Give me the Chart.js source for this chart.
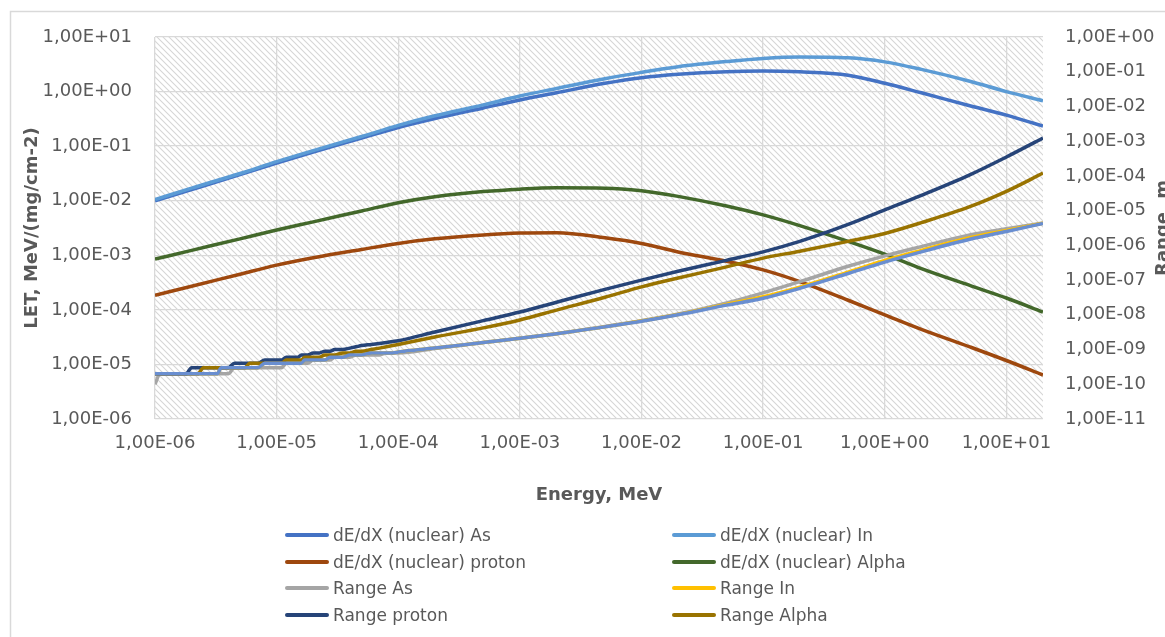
<!DOCTYPE html>
<html>
<head>
<meta charset="utf-8">
<script src="https://cdn.jsdelivr.net/npm/chart.js"></script>
<style>
    html, body { margin: 0; padding: 0; background: #fff; overflow: hidden; }
    #wrap { position: relative; width: 1165px; height: 637px; }
    #legend .item { position: absolute; font: 17px "DejaVu Sans"; line-height: 20px; color: #595959; white-space: nowrap; }
    #legend .swatch { position: absolute; width: 44px; height: 4px; border-radius: 2px; }
</style>
</head>
<body>
<div id="wrap">
    <canvas id="letChart" width="1165" height="637"></canvas>
    <div id="legend"></div>
</div>
<script>
// energies of the dE/dX tables, MeV
const energyMeV = [1e-6, 2e-6, 5e-6, 1e-5, 2e-5, 5e-5, 1e-4, 2e-4, 5e-4, 1e-3, 2e-3, 5e-3,
    1e-2, 2e-2, 5e-2, 1e-1, 2e-1, 5e-1, 1, 2, 5, 10, 20];

// dE/dX (nuclear), MeV/(mg/cm-2)
const letAs = [1.0e-2, 1.6e-2, 3.0e-2, 4.9e-2, 7.8e-2, 0.14, 0.22, 0.32, 0.50, 0.70, 0.95, 1.42,
    1.80, 2.08, 2.32, 2.38, 2.3, 2.0, 1.42, 0.95, 0.55, 0.37, 0.234];
const letIn = [1.05e-2, 1.7e-2, 3.15e-2, 5.2e-2, 8.3e-2, 0.15, 0.24, 0.36, 0.57, 0.83, 1.14, 1.72,
    2.25, 2.85, 3.55, 4.05, 4.3, 4.15, 3.5, 2.55, 1.55, 1.0, 0.68];
const letProton = [1.85e-4, 2.7e-4, 4.5e-4, 6.6e-4, 9.0e-4, 1.28e-3, 1.65e-3, 2.0e-3, 2.35e-3, 2.55e-3, 2.6e-3, 2.1e-3,
    1.65e-3, 1.15e-3, 7.8e-4, 5.4e-4, 3.3e-4, 1.5e-4, 8.1e-5, 4.4e-5, 2.1e-5, 1.18e-5, 6.4e-6];
const letAlpha = [8.5e-4, 1.23e-3, 2.0e-3, 2.9e-3, 4.1e-3, 6.5e-3, 9.2e-3, 1.18e-2, 1.47e-2, 1.63e-2, 1.72e-2, 1.7e-2,
    1.52e-2, 1.2e-2, 8.0e-3, 5.5e-3, 3.5e-3, 1.8e-3, 1.05e-3, 5.7e-4, 2.8e-4, 1.65e-4, 9.1e-5];

// energies of the range tables, MeV (SRIM style grid at the low end)
const rangeEnergyMeV = [1e-6, 1.1e-6, 1.2e-6, 1.3e-6, 1.4e-6, 1.5e-6, 1.6e-6, 1.7e-6, 1.8e-6, 2e-6, 2.25e-6, 2.5e-6, 2.75e-6,
    3e-6, 3.25e-6, 3.5e-6, 3.75e-6, 4e-6, 4.5e-6, 5e-6, 5.5e-6, 6e-6, 6.5e-6, 7e-6, 8e-6, 9e-6,
    1e-5, 1.1e-5, 1.2e-5, 1.3e-5, 1.4e-5, 1.5e-5, 1.6e-5, 1.7e-5, 1.8e-5, 2e-5, 2.25e-5, 2.5e-5, 2.75e-5,
    3e-5, 3.5e-5, 4e-5, 4.5e-5, 5e-5, 6e-5, 7e-5, 8e-5, 9e-5,
    1e-4, 2e-4, 5e-4, 1e-3, 2e-3, 5e-3, 1e-2, 2e-2, 5e-2, 0.1, 0.2, 0.5, 1, 2, 5, 10, 20];

// ranges, m
const rangeAs = [1e-10, 2e-10, 2e-10, 2e-10, 2e-10, 2e-10, 2e-10, 2e-10, 2e-10, 2e-10, 2e-10, 2e-10, 2e-10,
    2e-10, 2e-10, 2e-10, 2e-10, 2e-10, 3e-10, 3e-10, 3e-10, 3e-10, 3e-10, 3e-10, 3e-10, 3e-10,
    3e-10, 3e-10, 4e-10, 4e-10, 4e-10, 4e-10, 4e-10, 4e-10, 4e-10, 5e-10, 5e-10, 5e-10, 5e-10,
    6e-10, 6e-10, 6e-10, 7e-10, 7e-10, 7e-10, 7e-10, 8e-10, 8e-10,
    8e-10, 1.07e-9, 1.6e-9, 2.1e-9, 2.85e-9, 4.6e-9, 6.8e-9, 1.05e-8, 2.2e-8, 4.3e-8, 9e-8, 2.5e-7, 5.0e-7, 9.2e-7, 2.0e-6, 3.0e-6, 4.4e-6];
const rangeIn = [2e-10, 2e-10, 2e-10, 2e-10, 2e-10, 2e-10, 2e-10, 2e-10, 2e-10, 2e-10, 2e-10, 2e-10, 2e-10,
    2e-10, 2e-10, 3e-10, 3e-10, 3e-10, 3e-10, 3e-10, 3e-10, 3e-10, 3e-10, 3e-10, 4e-10, 4e-10,
    4e-10, 4e-10, 4e-10, 4e-10, 4e-10, 4e-10, 4e-10, 5e-10, 5e-10, 5e-10, 5e-10, 5e-10, 6e-10,
    6e-10, 6e-10, 7e-10, 7e-10, 7e-10, 8e-10, 8e-10, 8e-10, 8e-10,
    8.5e-10, 1.1e-9, 1.6e-9, 2.1e-9, 2.85e-9, 4.5e-9, 6.6e-9, 1.02e-8, 2.0e-8, 3.3e-8, 6.3e-8, 1.7e-7, 3.7e-7, 7.2e-7, 1.65e-6, 2.7e-6, 4.35e-6];
const rangeProton = [2e-10, 2e-10, 2e-10, 2e-10, 2e-10, 2e-10, 2e-10, 2e-10, 2e-10, 3e-10, 3e-10, 3e-10, 3e-10,
    3e-10, 3e-10, 3e-10, 3e-10, 3e-10, 4e-10, 4e-10, 4e-10, 4e-10, 4e-10, 4e-10, 5e-10, 5e-10,
    5e-10, 5e-10, 6e-10, 6e-10, 6e-10, 6e-10, 7e-10, 7e-10, 7e-10, 8e-10, 8e-10, 9e-10, 9e-10,
    1.0e-9, 1.0e-9, 1.1e-9, 1.2e-9, 1.3e-9, 1.4e-9, 1.5e-9, 1.6e-9, 1.7e-9,
    1.8e-9, 3.2e-9, 6.8e-9, 1.2e-8, 2.3e-8, 5.4e-8, 1.0e-7, 1.8e-7, 3.7e-7, 6.5e-7, 1.3e-6, 4.0e-6, 1.05e-5, 2.75e-5, 1.07e-4, 3.5e-4, 1.23e-3];
const rangeAlpha = [2e-10, 2e-10, 2e-10, 2e-10, 2e-10, 2e-10, 2e-10, 2e-10, 2e-10, 2e-10, 2e-10, 3e-10, 3e-10,
    3e-10, 3e-10, 3e-10, 3e-10, 3e-10, 3e-10, 3e-10, 3e-10, 4e-10, 4e-10, 4e-10, 4e-10, 4e-10,
    4e-10, 4e-10, 5e-10, 5e-10, 5e-10, 5e-10, 5e-10, 6e-10, 6e-10, 6e-10, 6e-10, 7e-10, 7e-10,
    7e-10, 8e-10, 8e-10, 9e-10, 9e-10, 1.0e-9, 1.1e-9, 1.2e-9, 1.3e-9,
    1.4e-9, 2.3e-9, 4.2e-9, 7.1e-9, 1.37e-8, 3.2e-8, 6.4e-8, 1.15e-7, 2.4e-7, 4.3e-7, 6.8e-7, 1.3e-6, 2.2e-6, 4.5e-6, 1.3e-5, 3.6e-5, 1.2e-4];
// extra range curve drawn on top, no legend entry
const rangeExtra = [2e-10, 2e-10, 2e-10, 2e-10, 2e-10, 2e-10, 2e-10, 2e-10, 2e-10, 2e-10, 2e-10, 2e-10, 2e-10,
    2e-10, 2e-10, 3e-10, 3e-10, 3e-10, 3e-10, 3e-10, 3e-10, 3e-10, 3e-10, 3e-10, 4e-10, 4e-10,
    4e-10, 4e-10, 4e-10, 4e-10, 4e-10, 4e-10, 4e-10, 5e-10, 5e-10, 5e-10, 5e-10, 5e-10, 6e-10,
    6e-10, 6e-10, 7e-10, 7e-10, 7e-10, 8e-10, 8e-10, 8e-10, 8e-10,
    8.5e-10, 1.1e-9, 1.6e-9, 2.1e-9, 2.85e-9, 4.5e-9, 6.5e-9, 1.0e-8, 1.9e-8, 3.0e-8, 5.8e-8, 1.55e-7, 3.3e-7, 6.5e-7, 1.5e-6, 2.5e-6, 4.3e-6];

const energyTicks = [1e-6, 1e-5, 1e-4, 1e-3, 1e-2, 1e-1, 1, 10];
const letTicks = [1e-6, 1e-5, 1e-4, 1e-3, 1e-2, 1e-1, 1, 10];
const rangeTicks = [1e-11, 1e-10, 1e-9, 1e-8, 1e-7, 1e-6, 1e-5, 1e-4, 1e-3, 1e-2, 1e-1, 1];

const seriesList = [
    { label: "dE/dX (nuclear) As", xs: energyMeV, ys: letAs, color: "#4472C4", axis: "yLet" },
    { label: "dE/dX (nuclear) In", xs: energyMeV, ys: letIn, color: "#5B9BD5", axis: "yLet" },
    { label: "dE/dX (nuclear) proton", xs: energyMeV, ys: letProton, color: "#9E480E", axis: "yLet" },
    { label: "dE/dX (nuclear) Alpha", xs: energyMeV, ys: letAlpha, color: "#43682B", axis: "yLet" },
    { label: "Range As", xs: rangeEnergyMeV, ys: rangeAs, color: "#A5A5A5", axis: "yRange" },
    { label: "Range In", xs: rangeEnergyMeV, ys: rangeIn, color: "#FFC000", axis: "yRange" },
    { label: "Range proton", xs: rangeEnergyMeV, ys: rangeProton, color: "#264478", axis: "yRange" },
    { label: "Range Alpha", xs: rangeEnergyMeV, ys: rangeAlpha, color: "#997300", axis: "yRange" },
    { label: "Range", xs: rangeEnergyMeV, ys: rangeExtra, color: "#698ED0", axis: "yRange", hideInLegend: true }
];

const textColor = "#595959";
const gridColor = "#d9d9d9";
const fontName = "DejaVu Sans";

const sciLabel = (v) => {
    const exp = Math.round(Math.log10(v));
    return "1,00E" + (exp < 0 ? "-" : "+") + String(Math.abs(exp)).padStart(2, "0");
};

// diagonal hatch used as plot background
const makeHatch = () => {
    const s = 6;
    const tile = document.createElement("canvas");
    tile.width = s;
    tile.height = s;
    const t = tile.getContext("2d");
    t.strokeStyle = "#d6d6d6";
    t.lineWidth = 1.1;
    t.beginPath();
    t.moveTo(-1, -1); t.lineTo(s + 1, s + 1);
    t.moveTo(-1, s - 1); t.lineTo(1, s + 1);
    t.moveTo(s - 1, -1); t.lineTo(s + 1, 1);
    t.stroke();
    return tile;
};

const backgroundPlugin = {
    id: "background",
    beforeDraw(chart) {
        const { ctx, chartArea } = chart;
        ctx.save();
        ctx.fillStyle = "#fff";
        ctx.fillRect(0, 0, chart.width, chart.height);
        // chart frame
        ctx.strokeStyle = gridColor;
        ctx.lineWidth = 1.5;
        ctx.beginPath();
        ctx.moveTo(10.5, chart.height + 2);
        ctx.lineTo(10.5, 11.5);
        ctx.lineTo(chart.width + 2, 11.5);
        ctx.stroke();
        ctx.fillStyle = ctx.createPattern(makeHatch(), "repeat");
        ctx.fillRect(chartArea.left, chartArea.top, chartArea.right - chartArea.left, chartArea.bottom - chartArea.top);
        ctx.restore();
    },
    afterDraw(chart) {
        // secondary axis title, reads bottom to top like the primary one
        const { ctx, chartArea } = chart;
        ctx.save();
        ctx.translate(1168, (chartArea.top + chartArea.bottom) / 2);
        ctx.rotate(-Math.PI / 2);
        ctx.font = "bold 18px '" + fontName + "'";
        ctx.fillStyle = textColor;
        ctx.textAlign = "center";
        ctx.textBaseline = "alphabetic";
        ctx.fillText("Range, m", 0, 0);
        ctx.restore();
    }
};

const datasets = seriesList.map((s, i) => ({
    label: s.label,
    data: s.xs.map((x, k) => ({ x: x, y: s.ys[k] })),
    borderColor: s.color,
    backgroundColor: s.color,
    borderWidth: 3.5,
    pointRadius: 0,
    cubicInterpolationMode: "monotone",
    fill: false,
    yAxisID: s.axis,
    order: -i
}));

const decadeTicks = (values) => (scale) => {
    scale.ticks = values.map(v => ({ value: v }));
};

new Chart(document.getElementById("letChart").getContext("2d"), {
    type: "line",
    data: { datasets: datasets },
    plugins: [backgroundPlugin],
    options: {
        responsive: false,
        animation: false,
        devicePixelRatio: 1,
        layout: { padding: { left: 0, top: 37, right: 0, bottom: 131 } },
        plugins: { legend: { display: false }, tooltip: { enabled: false } },
        scales: {
            x: {
                type: "logarithmic",
                position: "bottom",
                min: 1e-6,
                max: 20,
                afterBuildTicks: decadeTicks(energyTicks),
                afterFit: (s) => { s.height = 87; },
                grid: { color: gridColor, lineWidth: 1.3, drawTicks: false },
                border: { display: false },
                ticks: {
                    callback: (v) => sciLabel(v),
                    color: textColor,
                    font: { family: fontName, size: 18 },
                    padding: 14,
                    maxRotation: 0,
                    autoSkip: false
                },
                title: {
                    display: true,
                    text: "Energy, MeV",
                    color: textColor,
                    font: { family: fontName, size: 18, weight: "bold" },
                    padding: 0
                }
            },
            yLet: {
                type: "logarithmic",
                position: "left",
                min: 1e-6,
                max: 10,
                afterBuildTicks: decadeTicks(letTicks),
                afterFit: (s) => { s.width = 155; },
                grid: { color: gridColor, lineWidth: 1.3, drawTicks: false },
                border: { display: false },
                ticks: {
                    callback: (v) => sciLabel(v),
                    color: textColor,
                    font: { family: fontName, size: 18 },
                    padding: 23,
                    autoSkip: false
                },
                title: {
                    display: true,
                    text: "LET, MeV/(mg/cm-2)",
                    color: textColor,
                    font: { family: fontName, size: 18, weight: "bold" },
                    padding: { top: 22, bottom: 0 }
                }
            },
            yRange: {
                type: "logarithmic",
                position: "right",
                min: 1e-11,
                max: 1,
                afterBuildTicks: decadeTicks(rangeTicks),
                afterFit: (s) => { s.width = 122; },
                grid: { display: false, drawTicks: false },
                border: { display: false },
                ticks: {
                    callback: (v) => sciLabel(v),
                    color: textColor,
                    font: { family: fontName, size: 18 },
                    padding: 22,
                    autoSkip: false
                }
            }
        }
    }
});

// legend in two columns under the axis title
const legendBox = document.getElementById("legend");
const legendCols = [285, 672];
const legendRows = [535, 561.5, 588, 614.5];
seriesList.filter(s => !s.hideInLegend).forEach((s, i) => {
    const left = legendCols[i % 2];
    const mid = legendRows[Math.floor(i / 2)];
    const sw = document.createElement("div");
    sw.className = "swatch";
    sw.style.left = left + "px";
    sw.style.top = (mid - 2) + "px";
    sw.style.background = s.color;
    legendBox.appendChild(sw);
    const item = document.createElement("div");
    item.className = "item";
    item.style.left = (left + 48) + "px";
    item.style.top = (mid - 10) + "px";
    item.textContent = s.label;
    legendBox.appendChild(item);
});
</script>
</body>
</html>
